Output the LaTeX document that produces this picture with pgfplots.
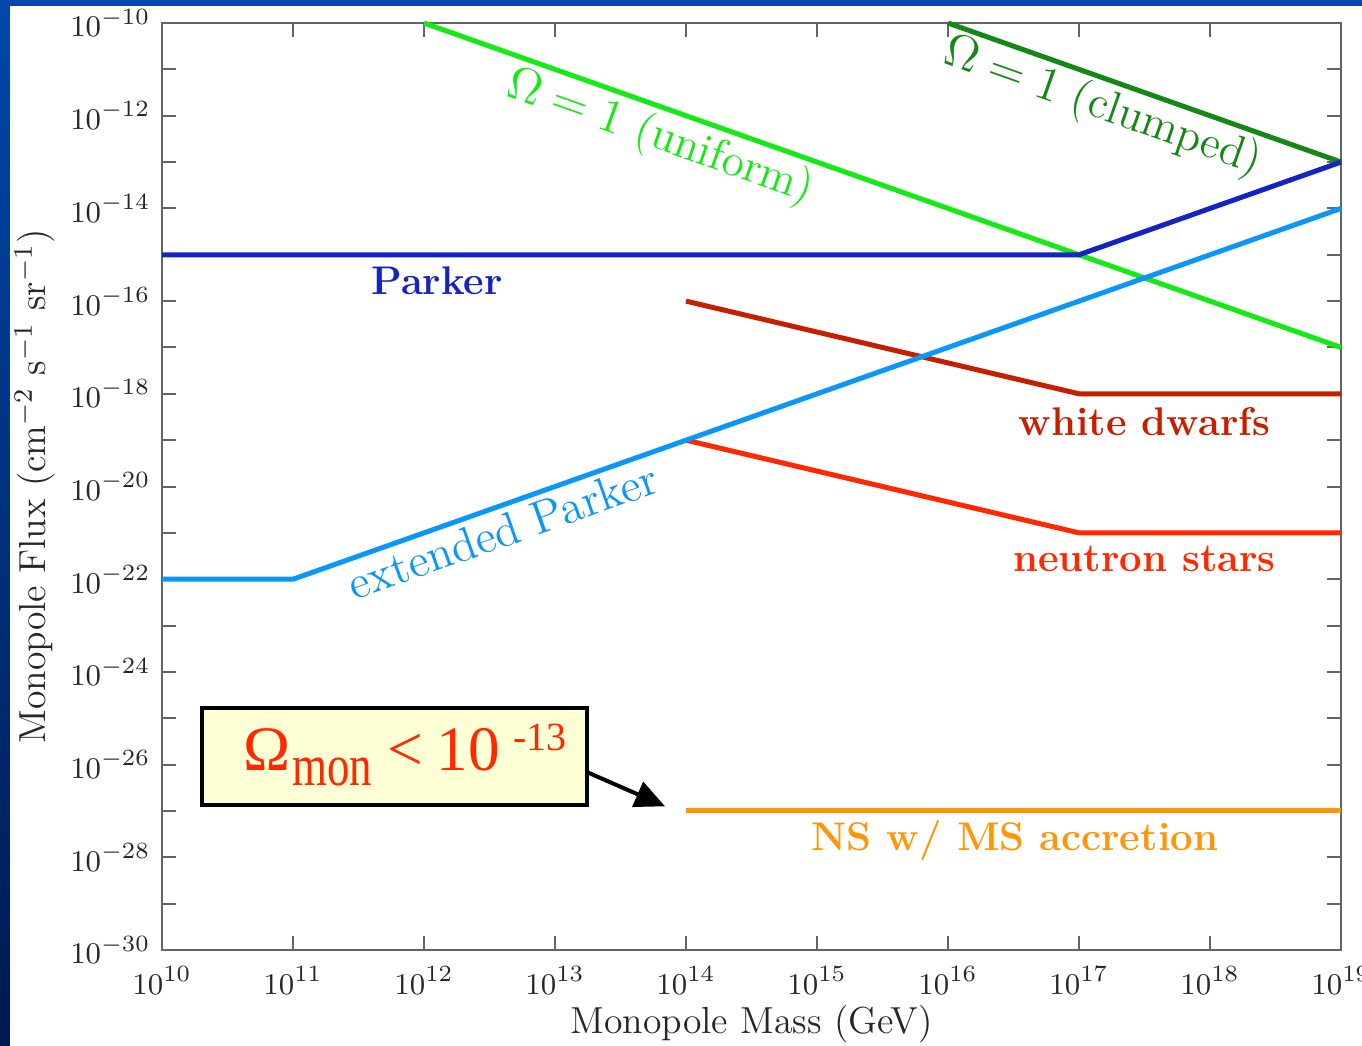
\documentclass[border=0pt]{standalone}
\usepackage{fontspec}
\newfontfamily\timesf{Liberation Serif}
\usepackage{pgfplots}
\pgfplotsset{compat=1.18}
\usetikzlibrary{arrows.meta}
\definecolor{clumpc}{RGB}{20,135,20}
\definecolor{unifc}{RGB}{20,235,20}
\definecolor{parkc}{RGB}{20,35,195}
\definecolor{extc}{RGB}{10,150,250}
\definecolor{wdc}{RGB}{200,30,0}
\definecolor{nsc}{RGB}{255,40,0}
\definecolor{accc}{RGB}{255,150,10}
\definecolor{boxc}{RGB}{255,255,213}
\definecolor{axc}{RGB}{100,100,100}
\definecolor{bordc}{RGB}{0,72,170}
\definecolor{bordd}{RGB}{0,25,80}
\begin{document}
\begin{tikzpicture}
\begin{axis}[
  at={(0,0)}, anchor=south west,
  width=353.7pt, height=278.1pt, scale only axis,
  xmode=log, ymode=log,
  xmin=1e10, xmax=1e19, ymin=1e-30, ymax=1e-10,
  xtick={1e10,1e11,1e12,1e13,1e14,1e15,1e16,1e17,1e18,1e19},
  xminorticks=false,
  ytick={1e-30,1e-28,1e-26,1e-24,1e-22,1e-20,1e-18,1e-16,1e-14,1e-12,1e-10},
  minor ytick={1e-29,1e-27,1e-25,1e-23,1e-21,1e-19,1e-17,1e-15,1e-13,1e-11},
  major tick length=4.2pt, minor tick length=4.2pt,
  tick align=inside,
  axis line style={axc, line width=0.6pt},
  every tick/.style={axc, line width=0.6pt},
  tick label style={font=\fontsize{9.4}{11}\selectfont, text=black!85},
  xticklabel style={yshift=-1.5pt},
  xlabel={Monopole Mass (GeV)},
  ylabel={Monopole Flux (cm$^{-2}$ s$^{-1}$ sr$^{-1}$)},
  label style={font=\fontsize{11.3}{13}\selectfont, text=black!85},
  xlabel style={at={(axis description cs:0.5,-0.0798)}, anchor=center},
  ylabel style={at={(axis description cs:-0.1080,0.5)}, anchor=center},
  clip=false,
  every axis plot/.append style={line width=1.5pt},
]
\addplot[wdc] coordinates {(1e14,1e-16) (1e17,1e-18) (1e19,1e-18)};
\addplot[nsc] coordinates {(1e14,1e-19) (1e17,1e-21) (1e19,1e-21)};
\addplot[accc] coordinates {(1e14,1e-27) (1e19,1e-27)};
\addplot[unifc] coordinates {(1e12,1e-10) (1e19,1e-17)};
\addplot[clumpc] coordinates {(1e16,1e-10) (1e19,1e-13)};
\addplot[parkc] coordinates {(1e10,1e-15) (1e17,1e-15) (1e19,1e-13)};
\addplot[extc] coordinates {(1e10,1e-22) (1e11,1e-22) (1e19,1e-14)};

\node[rotate=-19.5, text=unifc, font=\fontsize{13.6}{15}\selectfont] at (axis cs:6.31e13,3.3e-13) {$\Omega = 1$ (uniform)};
\node[rotate=-19.5, text=clumpc, font=\fontsize{13.6}{15}\selectfont] at (axis cs:1.51e17,1.48e-12) {$\Omega = 1$ (clumped)};
\node[rotate=19.5, text=extc, font=\fontsize{14}{15}\selectfont] at (axis cs:3.98e12,1.10e-21) {extended Parker};
\node[text=parkc, font=\fontsize{12}{14}\selectfont\bfseries] at (axis cs:1.26e12,2.69e-16) {Parker};
\node[text=wdc, font=\fontsize{12}{14}\selectfont\bfseries] at (axis cs:3.16e17,2.57e-19) {white dwarfs};
\node[text=nsc, font=\fontsize{12}{14}\selectfont\bfseries] at (axis cs:3.16e17,2.75e-22) {neutron stars};
\node[text=accc, font=\fontsize{12}{14}\selectfont\bfseries] at (axis cs:3.24e16,2.34e-28) {NS w/ MS accretion};

\draw[black, line width=1.2pt, fill=boxc] (axis cs:2.02e10,1.66e-25) rectangle (axis cs:1.75e13,1.35e-27);
\node[anchor=base west, inner sep=0pt, text=nsc, font=\timesf\fontsize{19}{19}\selectfont] at (axis cs:4.15e10,7.4e-27)
  {Ω\hspace{0.5pt}\raisebox{-4.5pt}{\fontsize{13.5}{14}\selectfont\scalebox{1}[1.3]{mon}}\hspace{4.5pt}<\hspace{4pt}10\hspace{4pt}\raisebox{6pt}{\fontsize{12}{12}\selectfont -13}};
\draw[black, line width=1.2pt, -{Triangle[length=9pt,width=8pt]}] (axis cs:1.75e13,6.92e-27) -- (axis cs:6.92e13,1.26e-27);
\end{axis}
\fill[bordc] (-48.6pt,283.3pt) rectangle (360pt,285pt);
\shade[top color=bordc, bottom color=bordd] (-48.6pt,-28.5pt) rectangle (-45.6pt,285pt);
\pgfresetboundingbox
\useasboundingbox (-48.6pt,-28.5pt) rectangle (360pt,285pt);
\end{tikzpicture}
\end{document}
